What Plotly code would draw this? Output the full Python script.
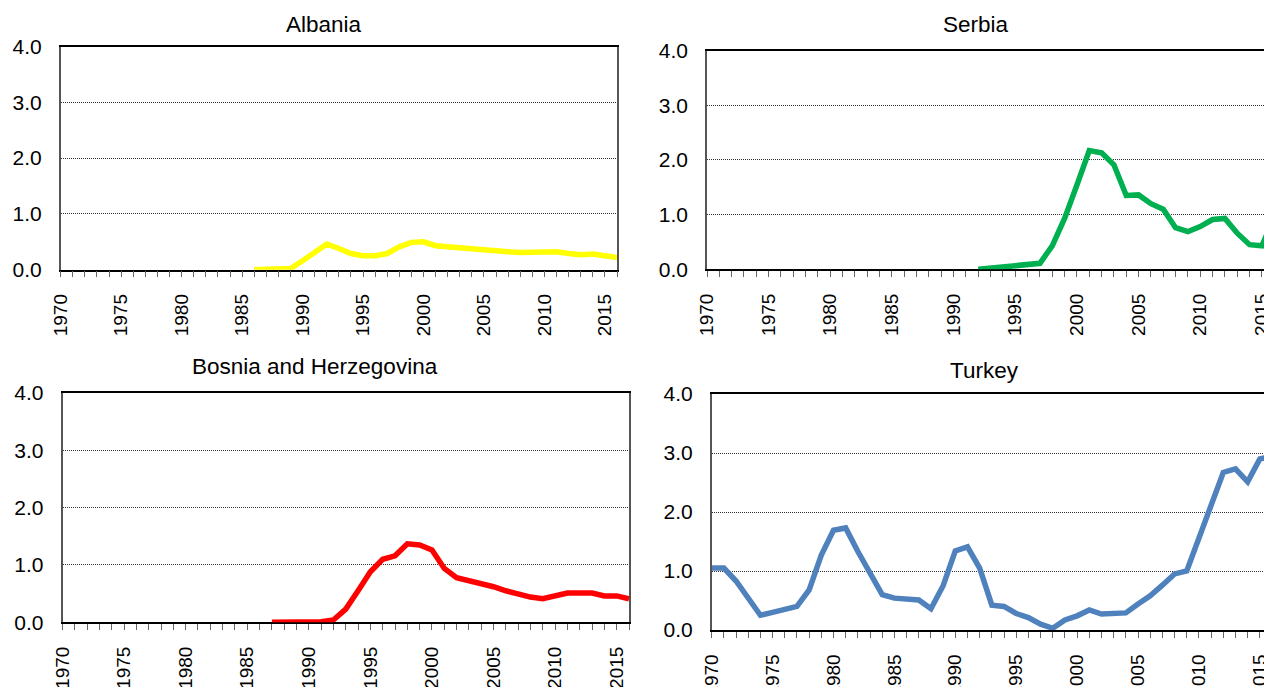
import plotly.graph_objects as go

# the page puts the figure 8px in from the top-left corner, so the figure is
# shrunk by that much and every pixel position below is shifted back by it
OFF = 8
W, H = 1272 - OFF, 687 - OFF

# values
albania_years = list(range(1986, 2017))
albania_vals = [0.0, 0.0, 0.01, 0.02, 0.16, 0.31, 0.46, 0.38, 0.29, 0.25, 0.25, 0.29, 0.41, 0.49, 0.50,
                0.43, 0.41, 0.39, 0.36, 0.34, 0.32, 0.32, 0.31, 0.31, 0.32, 0.32, 0.29, 0.27, 0.28, 0.26, 0.22]

serbia_years = list(range(1992, 2017))
serbia_vals = [0.0, 0.02, 0.05, 0.08, 0.10, 0.11, 0.43, 0.93, 1.54, 2.17, 2.13, 1.91, 1.35, 1.36, 1.20,
               1.10, 0.76, 0.69, 0.78, 0.91, 0.93, 0.66, 0.45, 0.43, 0.95]

bosnia_years = list(range(1987, 2017))
bosnia_vals = [0.0, 0.0, 0.0, 0.0, 0.01, 0.04, 0.23, 0.55, 0.88, 1.10, 1.16, 1.37, 1.35, 1.26, 0.94,
               0.78, 0.73, 0.66, 0.62, 0.55, 0.49, 0.44, 0.41, 0.47, 0.51, 0.51, 0.51, 0.46, 0.46, 0.41]

turkey_years = list(range(1970, 2017))
turkey_vals = [1.05, 1.05, 0.83, 0.55, 0.25, 0.30, 0.34, 0.40, 0.68, 1.27,
               1.69, 1.73, 1.33, 0.96, 0.60, 0.54, 0.53, 0.51, 0.36, 0.75,
               1.34, 1.41, 1.05, 0.42, 0.40, 0.28, 0.21, 0.10, 0.03, 0.17,
               0.24, 0.34, 0.27, 0.29, 0.29, 0.44, 0.58, 0.76, 0.95, 1.00,
               1.55, 2.12, 2.67, 2.73, 2.51, 2.90, 2.94]

year_ticks = list(range(1970, 2016, 5))
y_ticks = [0, 1, 2, 3, 4]

FONT = "Liberation Sans, Arial, sans-serif"


def px_x(v):
    return min(max((v - OFF) / W, 0.0), 1.0)


def px_y(v):
    return min(max(1 - (v - OFF) / H, 0.0), 1.0)


# (name, years, values, colour, left px, right px, top px, bottom px, x range end, title x, title y)
panels = [
    ("Albania", albania_years, albania_vals, "#FFFF00", 60.7, 617, 46.5, 269.7, 2016, 324, 24),
    ("Serbia", serbia_years, serbia_vals, "#00B050", 707, 1272, 50.5, 269.3, 2015.82, 976, 24),
    ("Bosnia and Herzegovina", bosnia_years, bosnia_vals, "#FF0000", 62.5, 629, 393, 622.3, 2016, 315, 366),
    ("Turkey", turkey_years, turkey_vals, "#4F81BD", 711.7, 1272, 394, 630, 2016, 984, 370),
]

fig = go.Figure()
annotations = []
for i, (name, yrs, vals, col, x0, x1, y0, y1, xend, tx, ty) in enumerate(panels, start=1):
    sfx = "" if i == 1 else str(i)
    fig.add_trace(go.Scatter(x=yrs, y=vals, mode="lines", name=name,
                             line=dict(color=col, width=5.5),
                             xaxis="x" + sfx, yaxis="y" + sfx, showlegend=False))
    fig.update_layout(**{
        "xaxis" + sfx: dict(
            domain=[px_x(x0), px_x(x1)], range=[1970, xend], anchor="y" + sfx,
            tickmode="array", tickvals=year_ticks, ticktext=[str(t) for t in year_ticks],
            tickangle=-90, ticks="outside", ticklen=6, tickcolor="#666666", tickwidth=1,
            minor=dict(dtick=1, tick0=1970, ticks="outside", ticklen=6, tickcolor="#666666", showgrid=False),
            showline=True, linecolor="black", linewidth=1.5, mirror=True,
            showgrid=False, zeroline=False, layer="below traces", automargin=False,
            ticklabeloverflow="allow",
            tickfont=dict(family=FONT, size=19, color="black"), ticklabelstandoff=9,
        ),
        "yaxis" + sfx: dict(
            domain=[px_y(y1), px_y(y0)], range=[0, 4], anchor="x" + sfx,
            tickmode="array", tickvals=y_ticks, tickformat=".1f",
            showline=True, linecolor="#555555", linewidth=1.5, mirror=True,
            showgrid=True, gridcolor="#333333", gridwidth=1, griddash="1px,1px",
            zeroline=False, ticks="", ticklabelstandoff=13, layer="below traces", automargin=False,
            tickfont=dict(family=FONT, size=21, color="black"),
        ),
    })
    annotations.append(dict(text=name, x=px_x(tx), y=px_y(ty), xref="paper", yref="paper",
                            xanchor="center", yanchor="middle", showarrow=False,
                            font=dict(family=FONT, size=22.5, color="black")))

fig.update_layout(width=W, height=H, margin=dict(l=0, r=0, t=0, b=0),
                  paper_bgcolor="white", plot_bgcolor="white",
                  annotations=annotations, showlegend=False)

fig.write_html("out.html")
